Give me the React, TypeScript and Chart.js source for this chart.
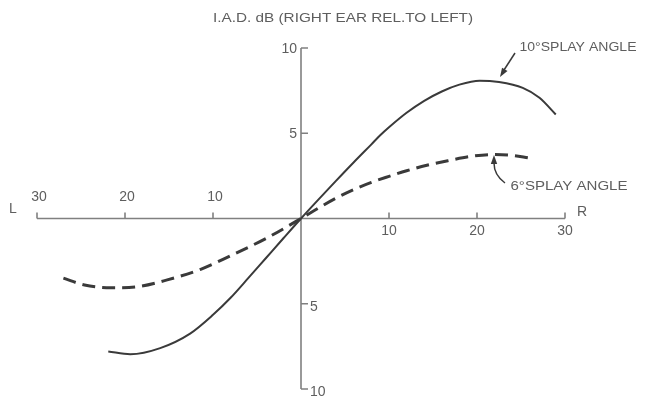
import React, { useEffect, useRef } from "react";
import { Chart, registerables } from "chart.js";

Chart.register(...registerables);

const solidX = [-21.9, -19.4, -16, -12.6, -10, -8, -6, -4, -2, 0, 2, 4, 6, 8, 9, 10, 12, 14, 16, 18, 20.3, 22.5, 25.2, 27.1, 28.95];
const solidY = [-7.8, -7.96, -7.6, -6.75, -5.65, -4.65, -3.5, -2.33, -1.16, 0, 1.12, 2.22, 3.3, 4.35, 4.88, 5.35, 6.2, 6.9, 7.45, 7.85, 8.08, 8.0, 7.66, 7.08, 6.1];

const dashedX = [-27, -24.6, -21.6, -18.6, -15.2, -11.4, -7.8, -3.9, 0, 2, 4, 6, 8, 10, 12, 14.3, 17, 19, 21.8, 24, 25.9];
const dashedY = [-3.5, -3.9, -4.06, -4.0, -3.6, -2.98, -2.13, -1.15, 0, 0.62, 1.2, 1.7, 2.12, 2.47, 2.8, 3.12, 3.42, 3.62, 3.75, 3.7, 3.55];

const xTickValues = [-30, -20, -10, 10, 20, 30];
const yTickValues = [10, 5, -5, -10];

const TITLE = "I.A.D. dB (RIGHT EAR REL.TO LEFT)";
const LABEL_10 = "10°SPLAY ANGLE";
const LABEL_6 = "6°SPLAY ANGLE";

const INK = "#3a3a3a";
const AXIS = "#808080";
const TEXT = "#5e5e5e";
const FONT = '"Liberation Sans", Arial, sans-serif';

function drawText(ctx: CanvasRenderingContext2D, text: string, cx: number, cy: number, size: number, width?: number, align: CanvasTextAlign = "center") {
  ctx.save();
  ctx.font = `${size}px ${FONT}`;
  ctx.fillStyle = TEXT;
  ctx.textBaseline = "middle";
  if (width) {
    const w = ctx.measureText(text).width;
    ctx.translate(cx, cy);
    ctx.scale(width / w, 1);
    ctx.textAlign = "center";
    ctx.fillText(text, 0, 0);
  } else {
    ctx.textAlign = align;
    ctx.fillText(text, cx, cy);
  }
  ctx.restore();
}

function arrowHead(ctx: CanvasRenderingContext2D, tipX: number, tipY: number, angle: number) {
  const len = 9;
  const half = 3.2;
  ctx.save();
  ctx.translate(tipX, tipY);
  ctx.rotate(angle);
  ctx.beginPath();
  ctx.moveTo(0, 0);
  ctx.lineTo(-len, -half);
  ctx.lineTo(-len, half);
  ctx.closePath();
  ctx.fillStyle = INK;
  ctx.fill();
  ctx.restore();
}

const axesPlugin = {
  id: "crossAxes",
  beforeDatasetsDraw(chart: any) {
    const ctx: CanvasRenderingContext2D = chart.ctx;
    const xs = chart.scales.x;
    const ys = chart.scales.y;
    const x0 = xs.getPixelForValue(0);
    const y0 = ys.getPixelForValue(0);
    ctx.save();
    ctx.strokeStyle = AXIS;
    ctx.lineWidth = 1.6;
    ctx.beginPath();
    ctx.moveTo(xs.getPixelForValue(-30), y0);
    ctx.lineTo(xs.getPixelForValue(30), y0);
    ctx.moveTo(x0, ys.getPixelForValue(10));
    ctx.lineTo(x0, ys.getPixelForValue(-10));
    for (const v of xTickValues) {
      const px = xs.getPixelForValue(v);
      ctx.moveTo(px, y0);
      ctx.lineTo(px, y0 - 6);
    }
    for (const v of yTickValues) {
      const py = ys.getPixelForValue(v);
      ctx.moveTo(x0, py);
      ctx.lineTo(x0 + 7, py);
    }
    ctx.stroke();
    ctx.restore();
  },
  afterDatasetsDraw(chart: any) {
    const ctx: CanvasRenderingContext2D = chart.ctx;
    const xs = chart.scales.x;
    const ys = chart.scales.y;
    const x0 = xs.getPixelForValue(0);
    const y0 = ys.getPixelForValue(0);
    for (const v of xTickValues) {
      const px = xs.getPixelForValue(v);
      const py = v < 0 ? y0 - 21 : y0 + 13;
      drawText(ctx, String(Math.abs(v)), px + (v < 0 ? 2 : 0), py, 14);
    }
    for (const v of yTickValues) {
      const py = ys.getPixelForValue(v);
      if (v > 0) drawText(ctx, String(v), x0 - 4, py + 1, 14, undefined, "right");
      else drawText(ctx, String(Math.abs(v)), x0 + 9, py + 3, 14, undefined, "left");
    }
    drawText(ctx, "L", xs.getPixelForValue(-30) - 24, y0 - 9, 14);
    drawText(ctx, "R", xs.getPixelForValue(30) + 17, y0 - 6, 14);

    drawText(ctx, TITLE, 343, 18, 13, 260);
    drawText(ctx, LABEL_10, 578, 47, 13, 117);
    drawText(ctx, LABEL_6, 569, 186, 13, 117);

    ctx.save();
    ctx.strokeStyle = INK;
    ctx.lineWidth = 1.5;
    ctx.beginPath();
    ctx.moveTo(515, 53);
    ctx.lineTo(504, 70);
    ctx.stroke();
    arrowHead(ctx, 500, 77, Math.atan2(77 - 53, 500 - 515));
    ctx.beginPath();
    ctx.moveTo(505, 183);
    ctx.quadraticCurveTo(494, 175, 494, 163);
    ctx.stroke();
    arrowHead(ctx, 494, 155, -Math.PI / 2);
    ctx.restore();
  },
};

export default function App() {
  const ref = useRef<HTMLCanvasElement>(null);
  useEffect(() => {
    if (!ref.current) return;
    const chart = new Chart(ref.current, {
      type: "scatter",
      data: {
        datasets: [
          {
            label: "10° splay angle",
            data: solidX.map((x, i) => ({ x, y: solidY[i] })),
            showLine: true,
            borderColor: INK,
            borderWidth: 2,
            pointRadius: 0,
            cubicInterpolationMode: "monotone",
          },
          {
            label: "6° splay angle",
            data: dashedX.map((x, i) => ({ x, y: dashedY[i] })),
            showLine: true,
            borderColor: INK,
            borderWidth: 3,
            borderDash: [13, 7],
            pointRadius: 0,
            cubicInterpolationMode: "monotone",
          },
        ],
      },
      options: {
        responsive: false,
        maintainAspectRatio: false,
        animation: false,
        layout: { padding: { left: 37, right: 86, top: 48, bottom: 9 } },
        scales: {
          x: { type: "linear", min: -30, max: 30, display: false },
          y: { type: "linear", min: -10, max: 10, display: false },
        },
        plugins: { legend: { display: false }, tooltip: { enabled: false } },
      },
      plugins: [axesPlugin],
    });
    return () => chart.destroy();
  }, []);
  return (
    <div style={{ position: "absolute", left: 0, top: 0, width: 651, height: 398, background: "#fff" }}>
      <canvas ref={ref} width={651} height={398} style={{ display: "block" }} />
    </div>
  );
}
